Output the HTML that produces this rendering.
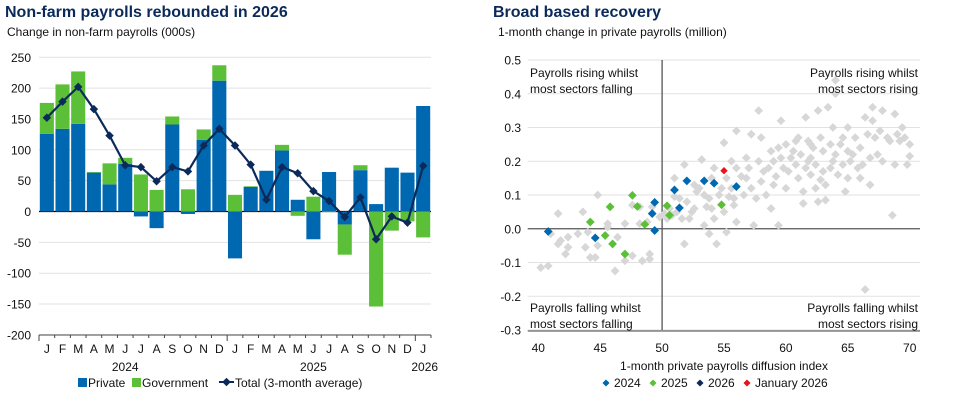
<!DOCTYPE html>
<html><head><meta charset="utf-8"><style>
body{margin:0;background:#fff;width:976px;height:410px;overflow:hidden;font-family:"Liberation Sans",sans-serif}
svg text{font-family:"Liberation Sans",sans-serif}
</style></head><body>
<svg id="c" width="976" height="410" xmlns="http://www.w3.org/2000/svg">
<text x="5" y="17" font-size="16" font-weight="bold" fill="#0b2a5a">Non-farm payrolls rebounded in 2026</text>
<text x="7" y="36" font-size="12" fill="#111">Change in non-farm payrolls (000s)</text>
<text x="493" y="17" font-size="16" font-weight="bold" fill="#0b2a5a">Broad based recovery</text>
<text x="498" y="36" font-size="12" fill="#111">1-month change in private payrolls (million)</text>
<g id="L"></g><g id="R"></g>
</svg>
<script>
const months=["J","F","M","A","M","J","J","A","S","O","N","D","J","F","M","A","M","J","J","A","S","O","N","D","J"];
const privateVals=[126,134,142,63,44,77,-8,-27,141,-4,116,212,-76,40,66,99,19,-45,64,-21,67,12,71,63,171];
const governmentVals=[50,72,85,1,34,10,60,35,13,36,17,25,27,1,0,9,-7,24,-1,-49,8,-154,-31,-16,-42];
const totalAvg=[152,178,202,166,123,75,72,49,72,65,107,134,107,76,19,72,62,33,17,-9,23,-45,-8,-18,74];
const leftTicks=[250,200,150,100,50,0,-50,-100,-150,-200];
const yearLabels=["2024","2025","2026"];

const diffusion2024=[40.8,44.6,49.4,49.2,49.4,51,51.4,52,53.4,54.2,56];
const change2024=[-0.008,-0.027,0.078,0.045,-0.005,0.115,0.062,0.142,0.142,0.135,0.125];
const diffusion2025=[44.2,45.4,45.8,46,47,47.6,48,48.6,50.4,50.6,54.8];
const change2025=[0.02,-0.02,0.065,-0.045,-0.075,0.099,0.066,0.013,0.068,0.04,0.071];
const diffusionJan26=[55];
const changeJan26=[0.172];
const histDiffusion=[40.2,40.8,41,41.6,41.6,41.8,42.2,42.4,42.4,43.2,43.6,43.8,44,44.2,44.6,44.8,44.8,45.6,45.6,46.2,46.4,47,47,47.6,47.6,48.2,48.4,48.8,49,49,49.2,49.8,50.2,50.4,50.8,51,51,51.2,51.4,51.6,51.8,51.8,52,52.2,52.4,52.6,52.8,53,53.2,53.4,53.4,53.6,53.8,54,54,54.2,54.2,54.4,54.6,54.8,55,55,55.2,55.2,55.4,55.6,55.6,55.8,56,56,56,56.4,56.6,56.8,57,57.2,57.2,57.4,57.6,57.8,57.8,58,58.2,58.4,58.6,58.8,58.8,59,59,59.2,59.4,59.6,59.6,59.8,60,60,60.2,60.4,60.6,60.8,61,61,61.2,61.4,61.4,61.6,61.6,61.8,62,62,62.2,62.4,62.4,62.6,62.6,62.8,63,63,63.2,63.2,63.4,63.6,63.8,63.8,64,64,64,64.2,64.4,64.6,64.8,65,65,65,65.2,65.6,65.8,66,66,66.4,66.4,66.6,66.8,66.8,67,67,67.2,67.4,67.6,67.8,67.8,68.2,68.4,68.6,68.8,68.8,69,69.2,69.4,69.6,69.8,70,70,60.8,61.8,62.8,63.6,64.6,65.4,66.2,62,59.4,58,56.8,55.8,53.8,52.6,50.6,48.2];
const histChange=[-0.115,-0.11,-0.015,0.045,-0.045,-0.035,-0.075,-0.055,-0.025,-0.015,0.05,-0.055,-0.01,-0.085,-0.085,0.1,-0.05,0.015,0.005,-0.125,-0.025,0.015,-0.095,0.07,-0.08,0.015,-0.095,0.02,-0.075,-0.09,0.065,0.035,0.045,0.03,0.04,0.15,0.095,0.05,0.09,0.03,0.19,-0.045,0.08,0.03,0.05,0.13,0.11,0.12,0.205,0.1,0.01,0.065,-0.015,0.15,0.06,0.18,0.03,-0.045,0.1,0.12,0.255,0.05,0.15,-0.01,0.095,0.2,0.12,0.07,0.29,0.18,0.02,0.155,0.1,0.21,0.18,0.12,0.28,0.01,0.09,0.35,0.2,0.14,0.17,0.1,0.18,0.06,0.23,0.13,0.2,0.155,0.01,0.32,0.21,0.18,0.12,0.25,0.17,0.21,0.23,0.19,0.27,0.15,0.22,0.11,0.075,0.33,0.18,0.26,0.16,0.21,0.24,0.19,0.12,0.35,0.08,0.27,0.23,0.17,0.13,0.085,0.36,0.25,0.2,0.3,0.44,0.4,0.22,0.16,0.25,0.19,0.11,0.3,0.23,0.15,0.2,0.27,0.18,0.24,0.15,-0.18,0.33,0.28,0.21,0.13,0.36,0.32,0.27,0.22,0.29,0.35,0.2,0.27,0.26,0.04,0.34,0.19,0.28,0.26,0.3,0.27,0.19,0.25,0.215,0.26,0.2,0.145,0.18,0.27,0.22,0.19,0.25,0.24,0.27,0.15,0.09,0.09,0.06,0.06,0.065];
const rightYTicks=[0.5,0.4,0.3,0.2,0.1,0.0,-0.1,-0.2,-0.3];
const rightXTicks=[40,45,50,55,60,65,70];

const NS="http://www.w3.org/2000/svg";
function mk(p,t,a,txt){const e=document.createElementNS(NS,t);for(const k in a)e.setAttribute(k,a[k]);if(txt!==undefined)e.textContent=txt;p.appendChild(e);return e;}
const BLUE="#0068b0",GREEN="#5cbf38",NAVY="#0b2a5a";

// LEFT
const L=document.getElementById('L');
const lx0=39,lx1=431,ly=v=>211.5-v*0.617;
const bw=(lx1-lx0)/months.length;
const lxc=i=>lx0+bw*(i+0.5);
leftTicks.forEach(t=>{
  const g=mk(L,'line',{x1:lx0,x2:lx1,y1:ly(t),y2:ly(t),stroke:t==0?"#000":"#e2e2e2","stroke-width":t==0?1.2:1});
  
  
  const tx=mk(L,'text',{x:31,y:ly(t)+4.5,"text-anchor":"end","font-size":12,fill:"#111"},t);
  
  
});
months.forEach((m,i)=>{
  const p=privateVals[i],g=governmentVals[i];
  let pos=0,neg=0;
  [[p,BLUE,'bar-private'],[g,GREEN,'bar-government']].forEach(([v,c,n])=>{
    let y0,y1;
    if(v>=0){y0=pos;y1=pos+v;pos=y1;}else{y0=neg;y1=neg+v;neg=y1;}
    const r=mk(L,'rect',{x:lxc(i)-bw/2+0.8,width:bw-1.6,y:Math.min(ly(y0),ly(y1)),height:Math.abs(ly(y1)-ly(y0)),fill:c});
    
    
  });
  const tx=mk(L,'text',{x:lxc(i),y:353,"text-anchor":"middle","font-size":12,fill:"#111"},m);
  
  
});
mk(L,'line',{x1:lx0,x2:lx1,y1:335,y2:335,stroke:"#444"});
for(let i=0;i<=months.length;i++){const tk=mk(L,'line',{x1:lx0+bw*i,x2:lx0+bw*i,y1:335,y2:i%12==0?341:338,stroke:"#444"});}
[[5.5,yearLabels[0]],[17.5,yearLabels[1]],[24,yearLabels[2]]].forEach(([i,t])=>{
  const tx=mk(L,'text',{x:lx0+bw*i+(i==24?bw*0.6:0),y:371,"text-anchor":"middle","font-size":12,fill:"#111"},t);
  
  
});
const line=mk(L,'polyline',{points:totalAvg.map((v,i)=>lxc(i)+","+ly(v)).join(" "),fill:"none",stroke:NAVY,"stroke-width":2.2});


totalAvg.forEach((v,i)=>{
  const d=mk(L,'rect',{x:lxc(i)-3,y:ly(v)-3,width:6,height:6,fill:NAVY,transform:`rotate(45 ${lxc(i)} ${ly(v)})`});
  
  
});
// left legend
(function(){
  const g=mk(L,'g',{});
  mk(g,'rect',{x:78,y:378,width:9,height:9,fill:BLUE});
  mk(g,'text',{x:88,y:387,"font-size":12,fill:"#111"},"Private");
  mk(g,'rect',{x:132,y:378,width:9,height:9,fill:GREEN});
  mk(g,'text',{x:142,y:387,"font-size":12,fill:"#111"},"Government");
  mk(g,'line',{x1:219,x2:234,y1:382,y2:382,stroke:NAVY,"stroke-width":2});
  mk(g,'rect',{x:223.5,y:379,width:6,height:6,fill:NAVY,transform:"rotate(45 226.5 382)"});
  mk(g,'text',{x:235,y:387,"font-size":12,fill:"#111"},"Total (3-month average)");
})();

// RIGHT
const R=document.getElementById('R');
const rx=v=>538.3+(v-40)*12.38, ry=v=>60+(0.5-v)*337.5;
const rl=527.7,rr=920;
rightYTicks.forEach(t=>{
  const g=mk(R,'line',{x1:rl,x2:rr,y1:ry(t),y2:ry(t),stroke:Math.abs(t)<1e-9?"#555":"#e2e2e2","stroke-width":Math.abs(t)<1e-9?1.3:1});
  
  
  const tx=mk(R,'text',{x:521,y:ry(t)+4.5,"text-anchor":"end","font-size":12,fill:"#111"},t.toFixed(1));
  
  
});
mk(R,'line',{x1:rl,x2:rr,y1:ry(-0.3)+1,y2:ry(-0.3)+1,stroke:"#444"});
rightXTicks.forEach(t=>{
  const tx=mk(R,'text',{x:rx(t),y:352,"text-anchor":"middle","font-size":12,fill:"#111"},t);
  
  
});
mk(R,'line',{x1:rx(50),x2:rx(50),y1:ry(0.5),y2:ry(-0.3),stroke:"#555","stroke-width":1.3});
function dots(xs,ys,c,n,s){xs.forEach((x,i)=>{
  const d=mk(R,'rect',{x:rx(x)-s,y:ry(ys[i])-s,width:2*s,height:2*s,fill:c,transform:`rotate(45 ${rx(x)} ${ry(ys[i])})`});
  
  
});}
dots(histDiffusion,histChange,"#d7d7d7",'point-history',3.1);
dots(diffusion2024,change2024,BLUE,'point-2024',3.1);
dots(diffusion2025,change2025,GREEN,'point-2025',3.1);
dots(diffusionJan26,changeJan26,"#e8141c",'point-jan-2026',2.6);
[[530,77,"start","Payrolls rising whilst"],[530,93,"start","most sectors falling"],[918,77,"end","Payrolls rising whilst"],[918,93,"end","most sectors rising"],[530,312,"start","Payrolls falling whilst"],[530,328,"start","most sectors falling"],[918,312,"end","Payrolls falling whilst"],[918,328,"end","most sectors rising"]].forEach(([x,y,a,t])=>{
  const tx=mk(R,'text',{x:x,y:y,"text-anchor":a,"font-size":12,fill:"#111"},t);
  
  
});
const xt=mk(R,'text',{x:724,y:370,"text-anchor":"middle","font-size":12,fill:"#111"},"1-month private payrolls diffusion index");


(function(){
  const g=mk(R,'g',{});
  [[606,BLUE,"2024"],[653,GREEN,"2025"],[700,NAVY,"2026"],[747,"#e8141c","January 2026"]].forEach(([x,c,t])=>{
    mk(g,'rect',{x:x-2.5,y:380.5,width:5,height:5,fill:c,transform:`rotate(45 ${x} 383)`});
    mk(g,'text',{x:x+8,y:387,"font-size":12,fill:"#111"},t);
  });
})();
</script>
</body></html>
